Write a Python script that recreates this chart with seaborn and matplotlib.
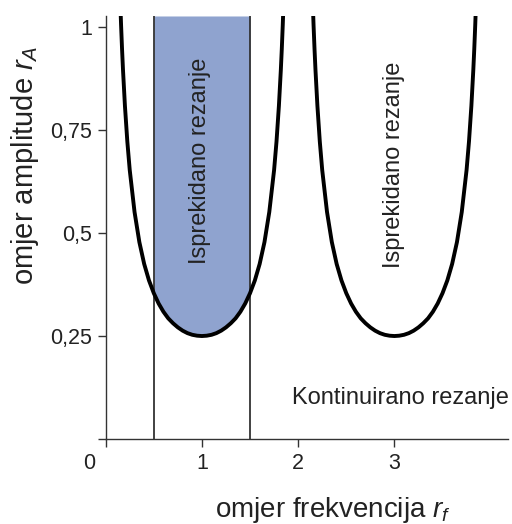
import numpy as np
import pandas as pd
import matplotlib
matplotlib.use("Agg")
import matplotlib.pyplot as plt
import matplotlib.transforms as mtransforms
import seaborn as sns

# values
rf_left = [0.15, 0.16, 0.17, 0.18, 0.20, 0.225, 0.25, 0.30, 0.35, 0.40, 0.45, 0.50, 0.55,
           0.60, 0.65, 0.70, 0.75, 0.80, 0.85, 0.90, 0.95, 1.00,
           1.05, 1.10, 1.15, 1.20, 1.25, 1.30, 1.35, 1.40, 1.45, 1.50, 1.55, 1.60, 1.65,
           1.70, 1.75, 1.775, 1.80, 1.82, 1.83, 1.84, 1.85]
rA_left = [1.071, 1.005, 0.947, 0.896, 0.809, 0.722, 0.653, 0.551, 0.478, 0.425, 0.385, 0.354, 0.329,
           0.309, 0.293, 0.281, 0.271, 0.263, 0.257, 0.253, 0.2508, 0.250,
           0.2508, 0.253, 0.257, 0.263, 0.271, 0.281, 0.293, 0.309, 0.329, 0.354, 0.385, 0.425, 0.478,
           0.551, 0.653, 0.722, 0.809, 0.896, 0.947, 1.005, 1.071]
rf_right = [2.15, 2.16, 2.17, 2.18, 2.20, 2.225, 2.25, 2.30, 2.35, 2.40, 2.45, 2.50, 2.55,
            2.60, 2.65, 2.70, 2.75, 2.80, 2.85, 2.90, 2.95, 3.00,
            3.05, 3.10, 3.15, 3.20, 3.25, 3.30, 3.35, 3.40, 3.45, 3.50, 3.55, 3.60, 3.65,
            3.70, 3.75, 3.775, 3.80, 3.82, 3.83, 3.84, 3.85]
rA_right = [1.071, 1.005, 0.947, 0.896, 0.809, 0.722, 0.653, 0.551, 0.478, 0.425, 0.385, 0.354, 0.329,
            0.309, 0.293, 0.281, 0.271, 0.263, 0.257, 0.253, 0.2508, 0.250,
            0.2508, 0.253, 0.257, 0.263, 0.271, 0.281, 0.293, 0.309, 0.329, 0.354, 0.385, 0.425, 0.478,
            0.551, 0.653, 0.722, 0.809, 0.896, 0.947, 1.005, 1.071]
band = [0.5, 1.5]
xticks = [0, 1, 2, 3]
yticks = [0, 0.25, 0.5, 0.75, 1]
ytick_labels = ["", "0,25", "0,5", "0,75", "1"]
region_labels = ["Isprekidano rezanje", "Isprekidano rezanje", "Kontinuirano rezanje"]

sns.set_theme(style="ticks")
plt.rcParams["font.family"] = ["Liberation Sans", "DejaVu Sans"]
plt.rcParams["mathtext.fontset"] = "custom"
plt.rcParams["mathtext.it"] = "Liberation Sans:italic"
plt.rcParams["mathtext.rm"] = "Liberation Sans"

top = 1.027
fig = plt.figure(figsize=(5.12, 5.24), dpi=100)
ax = fig.add_axes([0.2064, 0.1622, 0.7857, 0.8073])

# shaded band between the two vertical lines, above the curve
left = pd.DataFrame({"rf": rf_left, "rA": rA_left})
sub = left[(left.rf >= band[0]) & (left.rf <= band[1])]
ax.fill_between(sub.rf, sub.rA, top, color="#8fa3cf", lw=0, zorder=1)
for b in band:
    ax.axvline(b, color="#333333", lw=1.3, zorder=2)

sns.lineplot(data=left, x="rf", y="rA", color="black", lw=2.8, sort=False, ax=ax, zorder=3)
right = pd.DataFrame({"rf": rf_right, "rA": rA_right})
sns.lineplot(data=right, x="rf", y="rA", color="black", lw=2.8, sort=False, ax=ax, zorder=3)

ax.set_xlim(0, 4.18)
ax.set_ylim(0, top)
sns.despine(ax=ax)
for s in ["left", "bottom"]:
    ax.spines[s].set_color("#333333")
    ax.spines[s].set_linewidth(1.0)
ax.set_xticks(xticks)
ax.set_xticklabels([str(t) for t in xticks])
ax.set_yticks(yticks)
ax.set_yticklabels(ytick_labels)
ax.tick_params(direction="out", length=6, width=1.0, color="#333333",
               labelsize=15.5, labelcolor="#222222", pad=4)
# origin label sits a bit left of its tick
zero = ax.get_xticklabels()[0]
zero.set_transform(zero.get_transform() +
                   mtransforms.ScaledTranslation(-12 / 72, 0, fig.dpi_scale_trans))
ax.set_xlabel("")
ax.set_ylabel("")

ax.text(0.98, 0.675, region_labels[0], rotation=90, ha="center", va="center",
        fontsize=17, color="#222222")
ax.text(3.0, 0.665, region_labels[1], rotation=90, ha="center", va="center",
        fontsize=17, color="#222222")
ax.text(1.94, 0.10, region_labels[2], ha="left", va="center",
        fontsize=17, color="#222222")

fig.text(0.65, 14 / 524, r"omjer frekvencija $r_f$", ha="center", va="center",
         fontsize=20, color="#222222")
fig.text(0.049, 0.685, r"omjer amplitude $r_A$", rotation=90, ha="center", va="center",
         fontsize=21, color="#222222")

fig.savefig("out.png", dpi=100)
